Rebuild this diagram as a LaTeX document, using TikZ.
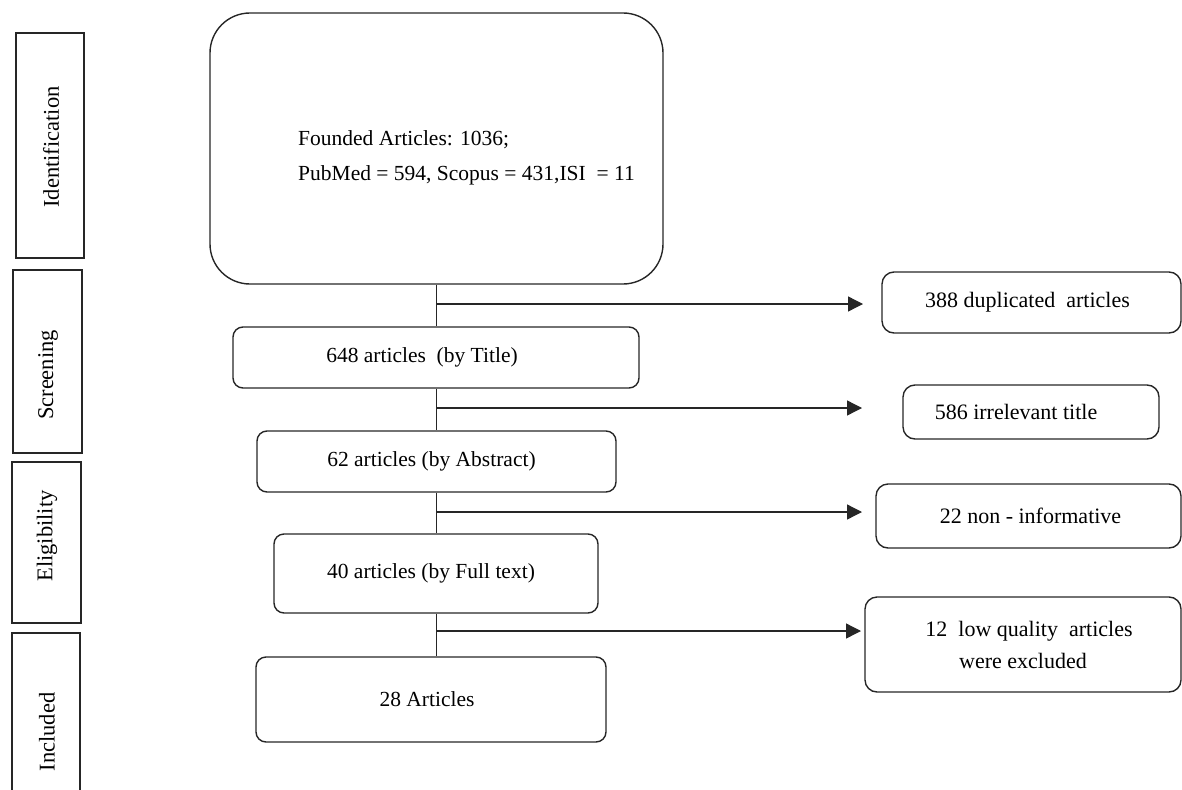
\documentclass[tikz,border=0pt]{standalone}
\usepackage{fontspec}
\setmainfont{Liberation Serif}
\usetikzlibrary{arrows.meta}
\begin{document}
\begin{tikzpicture}[x=1pt,y=-1pt,
  stagebox/.style={draw=black!85, line width=1.6pt, inner sep=0pt, font=\fontsize{22.5}{26}\selectfont},
  stagetext/.style={rotate=90, inner sep=0pt, font=\fontsize{22.5}{26}\selectfont},
  midbox/.style={draw=black!85, line width=1.4pt, rounded corners=10pt, inner sep=0pt, align=center, font=\fontsize{21.5}{26}\selectfont},
  sidebox/.style={draw=black!85, line width=1.4pt, rounded corners=12pt, inner sep=0pt, align=center, font=\fontsize{22}{32}\selectfont},
  link/.style={draw=black!85, line width=1.3pt},
  arr/.style={link, -{Triangle[length=15pt,width=15pt]}}
]
\useasboundingbox (0,0) rectangle (1182,789);

% stage boxes
\node[stagebox, minimum width=68pt, minimum height=225pt] (s1) at (50,145.5) {};
\node[stagetext] (s1t) at (51,147) {Identification};
\node[stagebox, minimum width=69pt, minimum height=183pt] (s2) at (47.5,361.5) {};
\node[stagetext] (s2t) at (48,375) {Screening};
\node[stagebox, minimum width=69pt, minimum height=161pt] (s3) at (46.5,542.5) {};
\node[stagetext] (s3t) at (47,536) {Eligibility};
\coordinate (s4a) at (12,800);
\coordinate (s4b) at (12,633);
\coordinate (s4c) at (80,633);
\coordinate (s4d) at (80,800);
\draw[draw=black!85, line width=1.6pt] (s4a) -- (s4b) -- (s4c) -- (s4d);
\node[stagetext] (s4t) at (47,732) {Included};

% main box
\node[draw=black!85, line width=1.4pt, rounded corners=40pt, minimum width=453pt, minimum height=271pt, inner sep=0pt] (main) at (436.5,148.5) {};
\node[anchor=base west, inner sep=0pt, font=\fontsize{21.5}{26}\selectfont] (m1) at (298,145) {Founded Articles: 1036;};
\node[anchor=base west, inner sep=0pt, font=\fontsize{21.5}{26}\selectfont] (m2) at (298,180) {PubMed = 594, Scopus = 431,ISI ~= 11};

% middle boxes
\node[midbox, minimum width=406pt, minimum height=61pt] (b1) at (436,357.5) {\hspace*{-28pt}648 articles ~(by Title)};
\node[midbox, minimum width=359pt, minimum height=61pt] (b2) at (436.5,461.5) {\hspace*{-10pt}62 articles (by Abstract)};
\node[midbox, minimum width=324pt, minimum height=79pt] (b3) at (436,573.5) {\hspace*{-10pt}40 articles (by Full text)};
\node[midbox, minimum width=350pt, minimum height=85pt] (b4) at (431,699.5) {\hspace*{-8pt}28 Articles};

% side boxes
\node[sidebox, minimum width=299pt, minimum height=61pt] (r1) at (1031.5,302.5) {\hspace*{-8pt}388 duplicated ~articles};
\node[sidebox, minimum width=256pt, minimum height=54pt] (r2) at (1031,412) {\hspace*{-30pt}586 irrelevant title};
\node[sidebox, minimum width=305pt, minimum height=64pt] (r3) at (1028.5,516) {\hspace*{4pt}22 non - informative};
\node[sidebox, minimum width=316pt, minimum height=95pt] (r4) at (1023,644.5) {\hspace*{12pt}12 ~low quality ~articles\\ were excluded};

% vertical trunk
\draw[link] (main.south) -- (main.south |- b1.north);
\draw[link] (main.south |- b1.south) -- (main.south |- b2.north);
\draw[link] (main.south |- b2.south) -- (main.south |- b3.north);
\draw[link] (main.south |- b3.south) -- (main.south |- b4.north);

% side arrows
\coordinate (a1) at (436.5,304);
\coordinate (e1) at (863,304);
\coordinate (a2) at (436.5,408);
\coordinate (e2) at (862,408);
\coordinate (a3) at (436.5,512);
\coordinate (e3) at (862,512);
\coordinate (a4) at (436.5,631);
\coordinate (e4) at (861,631);
\draw[arr] (a1) -- (e1);
\draw[arr] (a2) -- (e2);
\draw[arr] (a3) -- (e3);
\draw[arr] (a4) -- (e4);
\end{tikzpicture}
\end{document}
